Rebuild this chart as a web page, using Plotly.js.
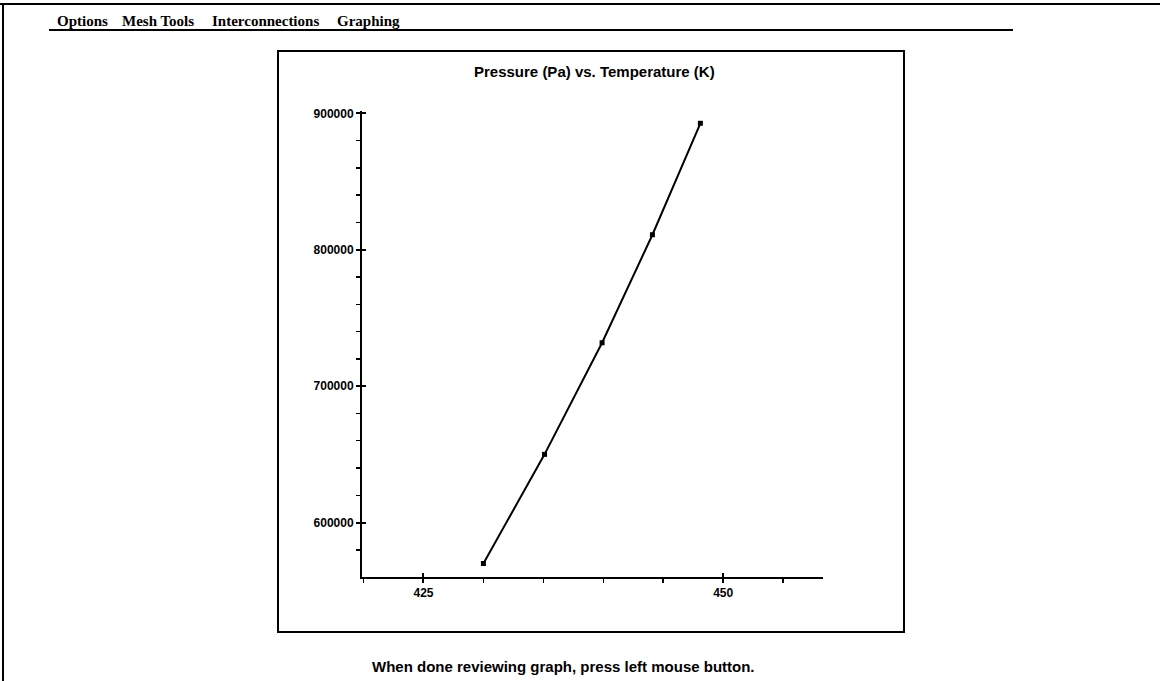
<!DOCTYPE html>
<html>
<head>
<meta charset="utf-8">
<script src="https://cdn.plot.ly/plotly-3.0.1.min.js"></script>
<style>
  html, body { margin: 0; padding: 0; background: #ffffff; }
  #chart { width: 1160px; height: 681px; }
</style>
</head>
<body>
<div id="chart"></div>
<script>
// ---- data ----
const temperatureK = [430.0, 435.1, 439.9, 444.1, 448.1];
const pressurePa = [570000, 650000, 731800, 811000, 892700];

const xTickVals = [425, 450];
const xTickText = ['425', '450'];
const yTickVals = [600000, 700000, 800000, 900000];
const yTickText = ['600000', '700000', '800000', '900000'];

const chartTitle = 'Pressure (Pa) vs. Temperature (K)';
const menuItems = ['Options', 'Mesh Tools', 'Interconnections', 'Graphing'];
const footerText = 'When done reviewing graph, press left mouse button.';

// ---- layout geometry (pixels) ----
const W = 1160, H = 681;
const L = 362, R = 823, T = 111, B = 577;
const px = x => (x - L) / (R - L);
const py = y => (B - y) / (B - T);

const xRange = [419.87, 458.33];
const yRange = [560100, 901700];

const menuX = [55, 120, 210, 335];

const ink = '#000000';
const sans = 'Liberation Sans, Arial, sans-serif';
const serif = 'Liberation Serif, Times New Roman, serif';

const traces = [
  {
    x: temperatureK, y: pressurePa, type: 'scatter', mode: 'lines+markers',
    line: { color: ink, width: 2 },
    marker: { color: ink, size: 5, symbol: 'square' },
    hoverinfo: 'x+y', showlegend: false
  },
  {
    x: temperatureK, y: pressurePa, xaxis: 'x2', yaxis: 'y2', type: 'scatter',
    mode: 'markers', marker: { opacity: 0 }, hoverinfo: 'skip', showlegend: false
  }
];

const shapes = [
  // top frame line
  { type: 'line', xref: 'paper', yref: 'paper', x0: px(0), x1: px(W), y0: py(4), y1: py(4), line: { color: ink, width: 2 } },
  // left frame line
  { type: 'line', xref: 'paper', yref: 'paper', x0: px(3), x1: px(3), y0: py(4), y1: py(H), line: { color: ink, width: 2 } },
  // menu underline
  { type: 'line', xref: 'paper', yref: 'paper', x0: px(49), x1: px(1013), y0: py(30), y1: py(30), line: { color: ink, width: 2 } },
  // graph window box
  { type: 'rect', xref: 'paper', yref: 'paper', x0: px(278), x1: px(904), y0: py(51), y1: py(632), line: { color: ink, width: 2 } }
];

const annotations = menuItems.map((t, i) => ({
  text: t, xref: 'paper', yref: 'paper', x: px(menuX[i]), y: py(21),
  xanchor: 'left', yanchor: 'middle', showarrow: false,
  font: { family: serif, size: 15, color: ink, weight: 'bold' }
}));
annotations.push({
  text: chartTitle, xref: 'paper', yref: 'paper', x: px(594), y: py(71),
  xanchor: 'center', yanchor: 'middle', showarrow: false,
  font: { family: sans, size: 15, color: ink, weight: 'bold' }
});
annotations.push({
  text: footerText, xref: 'paper', yref: 'paper', x: px(563), y: py(666),
  xanchor: 'center', yanchor: 'middle', showarrow: false,
  font: { family: sans, size: 15, color: ink, weight: 'bold' }
});

const baseAxis = {
  showgrid: false, zeroline: false, fixedrange: true
};

const tickFont = { family: sans, size: 12, color: ink, weight: 'bold' };

const layout = {
  width: W, height: H,
  margin: { l: L, r: W - R, t: T, b: H - B, pad: 0 },
  paper_bgcolor: '#ffffff', plot_bgcolor: '#ffffff',
  showlegend: false,
  font: { family: sans, color: ink },
  xaxis: Object.assign({}, baseAxis, {
    range: xRange, autorange: false,
    showline: true, linecolor: ink, linewidth: 2,
    tickmode: 'array', tickvals: xTickVals, ticktext: xTickText,
    ticks: 'outside', ticklen: 4, tickwidth: 2, tickcolor: ink,
    tickfont: tickFont,
    minor: { tickmode: 'linear', tick0: 425, dtick: 5, ticks: 'outside', ticklen: 4, tickwidth: 1.5, tickcolor: ink }
  }),
  yaxis: Object.assign({}, baseAxis, {
    range: yRange, autorange: false,
    showline: true, linecolor: ink, linewidth: 2,
    tickmode: 'array', tickvals: yTickVals, ticktext: yTickText,
    ticks: 'outside', ticklen: 4, tickwidth: 2, tickcolor: ink,
    tickfont: tickFont,
    minor: { tickmode: 'linear', tick0: 600000, dtick: 20000, ticks: 'outside', ticklen: 4, tickwidth: 1.5, tickcolor: ink }
  }),
  xaxis2: Object.assign({}, baseAxis, {
    overlaying: 'x', anchor: 'y', side: 'bottom',
    range: xRange, autorange: false, showline: false,
    tickmode: 'array', tickvals: xTickVals, showticklabels: false,
    ticks: 'inside', ticklen: 4, tickwidth: 2, tickcolor: ink
  }),
  yaxis2: Object.assign({}, baseAxis, {
    overlaying: 'y', anchor: 'x', side: 'left',
    range: yRange, autorange: false, showline: false,
    tickmode: 'array', tickvals: yTickVals, showticklabels: false,
    ticks: 'inside', ticklen: 4, tickwidth: 2, tickcolor: ink
  }),
  shapes: shapes,
  annotations: annotations
};

Plotly.newPlot('chart', traces, layout, { displayModeBar: false, staticPlot: true });
</script>
</body>
</html>
